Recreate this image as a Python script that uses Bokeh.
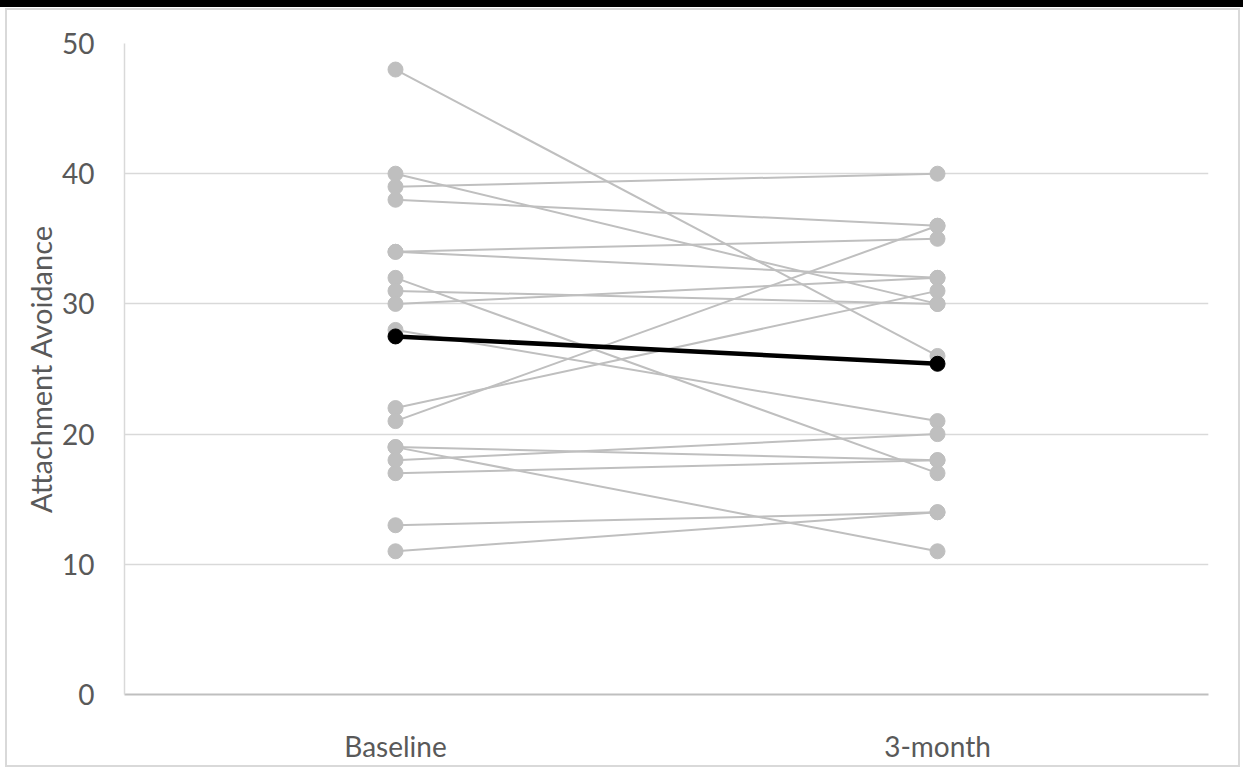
from bokeh.plotting import figure
from bokeh.models import FixedTicker, FactorRange, Range1d
from bokeh.embed import file_html
from bokeh.resources import INLINE

categories = ["Baseline", "3-month"]
baseline = [48, 40, 39, 38, 34, 34, 32, 31, 30, 28, 22, 21, 19, 19, 18, 17, 13, 11]
three_month = [26, 30, 40, 36, 35, 32, 17, 30, 32, 21, 31, 36, 18, 11, 20, 18, 14, 14]
mean_values = [27.5, 25.4]
y_ticks = [0, 10, 20, 30, 40, 50]

FONT = "Lato"
GREY = "#bfbfbf"
TEXT = "#595959"
EDGE = "#d9d9d9"

p = figure(width=1243, height=767, x_range=FactorRange(*categories),
           y_range=Range1d(0, 50), output_backend="svg", toolbar_location=None,
           min_border_left=124, min_border_right=35, min_border_top=43, min_border_bottom=73)
p.outline_line_color = None
p.background_fill_color = "white"
p.border_fill_color = None

# page decorations drawn behind the transparent canvas border:
# black strip on top and the light chart-area border
p.styles = {
    "background": ", ".join([
        "linear-gradient(black, black) 0px 0px / 100% 7px no-repeat",
        f"linear-gradient({EDGE}, {EDGE}) 5px 8px / 1235px 2px no-repeat",
        f"linear-gradient({EDGE}, {EDGE}) 5px 765px / 1235px 2px no-repeat",
        f"linear-gradient({EDGE}, {EDGE}) 5px 8px / 2px 759px no-repeat",
        f"linear-gradient({EDGE}, {EDGE}) 1238px 8px / 2px 759px no-repeat",
        "white",
    ])
}

for b, t in zip(baseline, three_month):
    p.line(categories, [b, t], line_color=GREY, line_width=2)
    p.scatter(categories, [b, t], size=15, fill_color=GREY, line_color=GREY)

p.line(categories, mean_values, line_color="black", line_width=4.5)
p.scatter(categories, mean_values, size=15, fill_color="black", line_color="black")

p.xgrid.grid_line_color = None
p.ygrid.grid_line_color = EDGE
p.ygrid.grid_line_width = 1.5
p.ygrid.ticker = FixedTicker(ticks=y_ticks)

p.yaxis.ticker = FixedTicker(ticks=y_ticks)
p.yaxis.axis_line_color = EDGE
p.yaxis.axis_line_width = 1.5
p.yaxis.major_tick_line_color = None
p.yaxis.minor_tick_line_color = None
p.yaxis.major_label_text_font = FONT
p.yaxis.major_label_text_font_size = "28px"
p.yaxis.major_label_text_color = TEXT
p.yaxis.major_label_standoff = 24
p.yaxis.axis_label = "Attachment Avoidance"
p.yaxis.axis_label_text_font = FONT
p.yaxis.axis_label_text_font_size = "29px"
p.yaxis.axis_label_text_font_style = "normal"
p.yaxis.axis_label_text_color = TEXT
p.yaxis.axis_label_standoff = 1

p.xaxis.axis_line_color = GREY
p.xaxis.axis_line_width = 2
p.xaxis.major_tick_line_color = None
p.xaxis.minor_tick_line_color = None
p.xaxis.major_label_text_font = FONT
p.xaxis.major_label_text_font_size = "28px"
p.xaxis.major_label_text_color = TEXT
p.xaxis.major_label_standoff = 28

open("out.html", "w").write(file_html(p, INLINE))
